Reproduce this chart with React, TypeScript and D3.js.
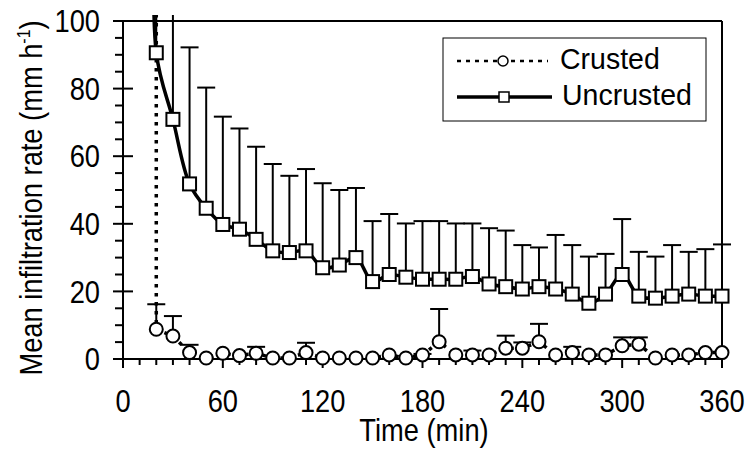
import React from 'react'
import * as d3 from 'd3'

// sampling times (min)
const times = [20, 30, 40, 50, 60, 70, 80, 90, 100, 110, 120, 130, 140, 150, 160, 170, 180,
  190, 200, 210, 220, 230, 240, 250, 260, 270, 280, 290, 300, 310, 320, 330, 340, 350, 360]

// mean infiltration rate (mm/h) and upper SD
const uncrusted = [90.6, 70.9, 51.8, 44.6, 39.8, 38.4, 35.4, 32.0, 31.5, 32.0, 27.0, 27.8, 30.0, 22.9,
  25.0, 24.2, 23.6, 23.6, 23.6, 24.4, 22.2, 21.4, 20.7, 21.4, 20.7, 19.2, 16.5, 19.2, 25.0, 18.6,
  18.0, 18.6, 19.2, 18.6, 18.6]
const uncrustedSd = [40, 55, 40.4, 35.7, 31.9, 29.8, 27.4, 25.7, 22.7, 24.2, 25.0, 22.2, 20.6, 17.9,
  17.9, 15.9, 17.2, 17.2, 16.5, 15.7, 16.5, 16.6, 13.0, 11.6, 16.0, 14.5, 13.8, 11.9, 16.4, 13.1,
  12.3, 15.1, 12.5, 13.9, 15.3]

const crusted = [8.8, 6.8, 1.9, 0.3, 1.7, 1.0, 1.7, 0.3, 0.3, 1.9, 0.3, 0.3, 0.3, 0.3, 1.2, 0.3, 1.2,
  5.1, 1.2, 1.2, 1.2, 3.2, 3.2, 5.1, 1.2, 1.9, 1.2, 1.2, 3.9, 4.4, 0.3, 1.2, 1.2, 1.9, 1.9]
const crustedSd = [7.4, 5.9, 2.3, 0, 0, 0, 1.9, 0, 0, 2.9, 0, 0, 0, 0, 0, 0, 0.3,
  9.7, 0, 1.3, 0, 3.7, 1.7, 5.3, 0, 1.7, 0, 0, 2.5, 2.0, 0, 0, 0, 0, 0]

// first reading at ponding, off the scale for both treatments
const pondingTime = 20
const pondingRate = 150

const xTicks = [0, 60, 120, 180, 240, 300, 360]
const yTicks = [0, 20, 40, 60, 80, 100]

const W = 753
const H = 454
const FONT = '"Liberation Sans", Arial, sans-serif'
const AXIS_FS = 31
const AXIS_SX = 0.88

const x = d3.scaleLinear().domain([0, 360]).range([123, 722])
const y = d3.scaleLinear().domain([0, 100]).range([359, 21])

// text squeezed a little sideways, like the narrow font of the original
function Txt(props: { x: number, y: number, size: number, sx?: number, anchor?: string, rot?: number, dy?: string, children: any }) {
  const { sx = 1, anchor = 'start', rot = 0 } = props
  return (
    <text transform={`translate(${props.x},${props.y}) rotate(${rot}) scale(${sx},1)`}
      textAnchor={anchor} fontSize={props.size} dy={props.dy}>
      {props.children}
    </text>
  )
}

export default function App() {
  const minorX = d3.range(0, 361, 10).filter(t => t % 60 !== 0)
  const minorY = d3.range(0, 101, 5).filter(v => v % 20 !== 0)

  const uPts: [number, number][] = [[pondingTime, pondingRate], ...times.map((t, i) => [t, uncrusted[i]] as [number, number])]
  const cPts: [number, number][] = [[pondingTime, pondingRate], ...times.map((t, i) => [t, crusted[i]] as [number, number])]

  const smooth = d3.line<[number, number]>()
    .x(d => x(d[0]))
    .y(d => y(d[1]))
    .curve(d3.curveCatmullRom.alpha(0.5))
  const straight = d3.line<[number, number]>()
    .x(d => x(d[0]))
    .y(d => y(d[1]))

  const cap = 9
  const errBars = (vals: number[], sds: number[], key: string) =>
    times.map((t, i) => {
      if (!sds[i]) return null
      const px = x(t)
      const top = y(vals[i] + sds[i])
      return (
        <g key={key + i}>
          <line x1={px} x2={px} y1={y(vals[i])} y2={top} stroke="#000" strokeWidth={2} />
          <line x1={px - cap} x2={px + cap} y1={top} y2={top} stroke="#000" strokeWidth={2} />
        </g>
      )
    })

  return (
    <svg width={W} height={H} style={{ position: 'absolute', left: 0, top: 0, background: '#fff' }}
      fontFamily={FONT}>
      <defs>
        <clipPath id="plot">
          <rect x={100} y={15} width={640} height={439} />
        </clipPath>
      </defs>

      {/* frame */}
      <line x1={x(0)} x2={x(360)} y1={y(100)} y2={y(100)} stroke="#000" strokeWidth={2} />
      <line x1={x(360)} x2={x(360)} y1={y(100)} y2={y(0)} stroke="#000" strokeWidth={2} />

      <g clipPath="url(#plot)">
        {errBars(uncrusted, uncrustedSd, 'u')}
        {errBars(crusted, crustedSd, 'c')}
        <path d={straight(cPts) || ''} fill="none" stroke="#000" strokeWidth={3.5} strokeDasharray="3.5,5.5" />
        <path d={smooth(uPts) || ''} fill="none" stroke="#000" strokeWidth={3.5} />
      </g>

      {/* axes */}
      <line x1={x(0)} x2={x(0)} y1={y(100)} y2={y(0)} stroke="#000" strokeWidth={2} />
      <line x1={x(0)} x2={x(360)} y1={y(0)} y2={y(0)} stroke="#000" strokeWidth={2} />
      {yTicks.map(v => (
        <line key={'yt' + v} x1={x(0) - 10} x2={x(0) + 10} y1={y(v)} y2={y(v)} stroke="#000" strokeWidth={2} />
      ))}
      {minorY.map(v => (
        <line key={'ym' + v} x1={x(0) - 8} x2={x(0)} y1={y(v)} y2={y(v)} stroke="#000" strokeWidth={2} />
      ))}
      {xTicks.map(t => (
        <line key={'xt' + t} x1={x(t)} x2={x(t)} y1={y(0)} y2={y(0) + 9} stroke="#000" strokeWidth={2} />
      ))}
      {minorX.map(t => (
        <line key={'xm' + t} x1={x(t)} x2={x(t)} y1={y(0)} y2={y(0) + 6} stroke="#000" strokeWidth={2} />
      ))}

      {/* markers */}
      <g clipPath="url(#plot)">
        {times.map((t, i) => (
          <circle key={'c' + i} cx={x(t)} cy={y(crusted[i])} r={6.5} fill="#fff" stroke="#000" strokeWidth={2} />
        ))}
        {times.map((t, i) => (
          <rect key={'s' + i} x={x(t) - 6.5} y={y(uncrusted[i]) - 6.5} width={13} height={13}
            fill="#fff" stroke="#000" strokeWidth={2} />
        ))}
      </g>

      {/* tick labels */}
      {yTicks.map(v => (
        <Txt key={'yl' + v} x={100} y={y(v)} dy="0.36em" anchor="end" size={AXIS_FS} sx={AXIS_SX}>{v}</Txt>
      ))}
      {xTicks.map(t => (
        <Txt key={'xl' + t} x={x(t)} y={412} anchor="middle" size={AXIS_FS} sx={AXIS_SX}>{t}</Txt>
      ))}

      {/* axis titles */}
      <Txt x={424} y={441} anchor="middle" size={AXIS_FS} sx={AXIS_SX}>Time (min)</Txt>
      <Txt x={42} y={198} rot={-90} anchor="middle" size={AXIS_FS} sx={AXIS_SX}>
        Mean infiltration rate (mm h<tspan dy={-12} fontSize={18}>-1</tspan><tspan dy={12}>)</tspan>
      </Txt>

      {/* legend */}
      <rect x={443} y={38} width={263} height={83} fill="#fff" stroke="#000" strokeWidth={1} />
      <line x1={457} x2={548} y1={61} y2={61} stroke="#000" strokeWidth={2.5} strokeDasharray="4,5" />
      <circle cx={503} cy={61} r={5} fill="#fff" stroke="#000" strokeWidth={1.5} />
      <Txt x={560} y={69} size={30} sx={0.95}>Crusted</Txt>
      <line x1={457} x2={552} y1={97} y2={97} stroke="#000" strokeWidth={3.5} />
      <rect x={499} y={92} width={10} height={10} fill="#fff" stroke="#000" strokeWidth={1.5} />
      <Txt x={562} y={105} size={30} sx={0.95}>Uncrusted</Txt>
    </svg>
  )
}
